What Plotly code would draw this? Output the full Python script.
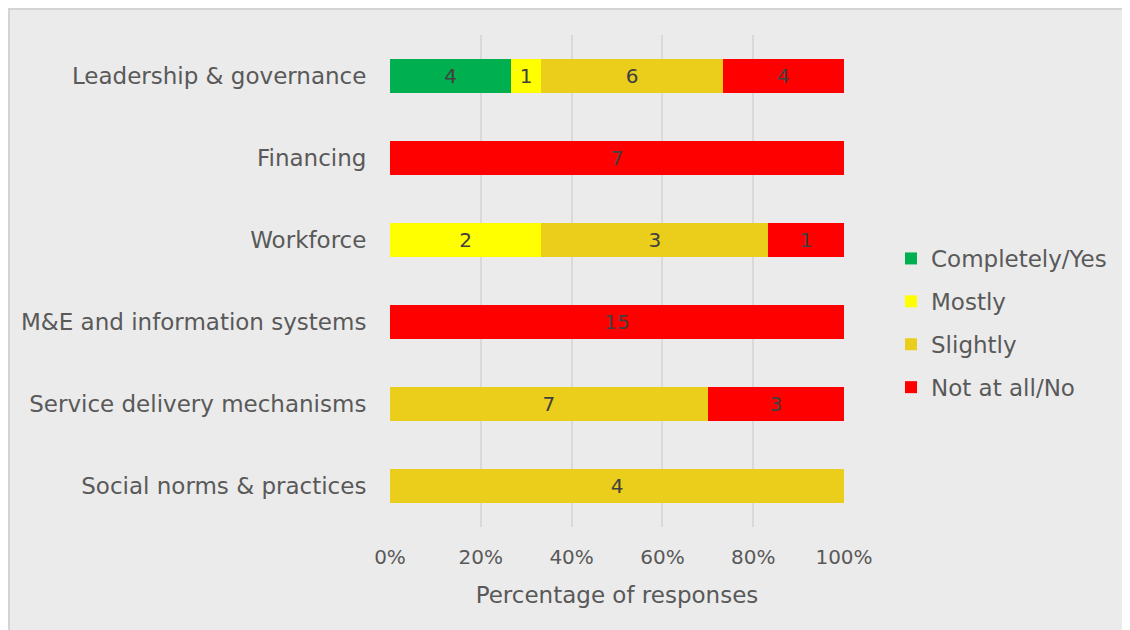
import plotly.graph_objects as go

categories = ["Leadership & governance", "Financing", "Workforce",
              "M&E and information systems", "Service delivery mechanisms",
              "Social norms & practices"]
series_names = ["Completely/Yes", "Mostly", "Slightly", "Not at all/No"]
completely = [4, 0, 0, 0, 0, 0]
mostly = [1, 0, 2, 0, 0, 0]
slightly = [6, 0, 3, 0, 7, 4]
not_at_all = [4, 7, 1, 15, 3, 0]
tick_vals = [0, 20, 40, 60, 80, 100]
tick_text = ["0%", "20%", "40%", "60%", "80%", "100%"]

colors = ["#00B050", "#FFFF00", "#EBCD1B", "#FF0000"]
FONT = "DejaVu Sans"
TXT = "#595959"

counts = [completely, mostly, slightly, not_at_all]
totals = [sum(c[i] for c in counts) for i in range(len(categories))]

fig = go.Figure()
for name, vals, col in zip(series_names, counts, colors):
    pct = [v / t * 100 if t else 0 for v, t in zip(vals, totals)]
    fig.add_trace(go.Bar(
        y=categories, x=pct, name=name, orientation="h",
        marker=dict(color=col, line=dict(width=0)),
        text=[str(v) if v else "" for v in vals],
        textposition="inside", insidetextanchor="middle",
        textangle=0,
        insidetextfont=dict(family=FONT, size=20, color="#404040"),
        legendgroup=name,
        hoverinfo="name+text",
    ))

W, H = 1130, 630
L, R, T, B = 382, 836, 27, 519
pw, ph = R - L, B - T

def px(x):
    return (x - L) / pw

def py(y):
    return (B - y) / ph

# light frame on the left and top edges of the chart area
fig.add_shape(type="line", xref="paper", yref="paper",
              x0=px(0.5), x1=px(0.5), y0=py(H + 20), y1=py(0),
              line=dict(color="#D4D4D4", width=3), layer="below")
fig.add_shape(type="line", xref="paper", yref="paper",
              x0=px(0), x1=px(W + 20), y0=py(0.5), y1=py(0.5),
              line=dict(color="#D4D4D4", width=3), layer="below")

fig.update_layout(
    width=W, height=H,
    margin=dict(l=L, r=W - R, t=T, b=H - B, pad=0),
    paper_bgcolor="#EBEBEB", plot_bgcolor="#EBEBEB",
    barmode="stack", bargap=0.585,
    font=dict(family=FONT, size=20, color=TXT),
    showlegend=True,
    legend=dict(x=px(883), y=py(315), xanchor="left", yanchor="middle",
                font=dict(family=FONT, size=23, color=TXT),
                tracegroupgap=10, traceorder="grouped",
                bgcolor="rgba(0,0,0,0)", itemwidth=30),
    xaxis=dict(range=[0, 100], tickvals=tick_vals, ticktext=tick_text,
               showgrid=True, gridcolor="#D9D9D9", gridwidth=2,
               zeroline=False, showline=False,
               ticks="outside", ticklen=12, tickcolor="rgba(0,0,0,0)",
               tickfont=dict(family=FONT, size=20, color=TXT),
               title=dict(text="Percentage of responses", standoff=18,
                          font=dict(family=FONT, size=23, color=TXT))),
    yaxis=dict(autorange="reversed", showgrid=False, zeroline=False, showline=False,
               ticks="outside", ticklen=18, tickcolor="rgba(0,0,0,0)",
               tickfont=dict(family=FONT, size=23, color=TXT)),
)

fig.write_html("out.html", post_script="document.body.style.overflow='hidden';")
